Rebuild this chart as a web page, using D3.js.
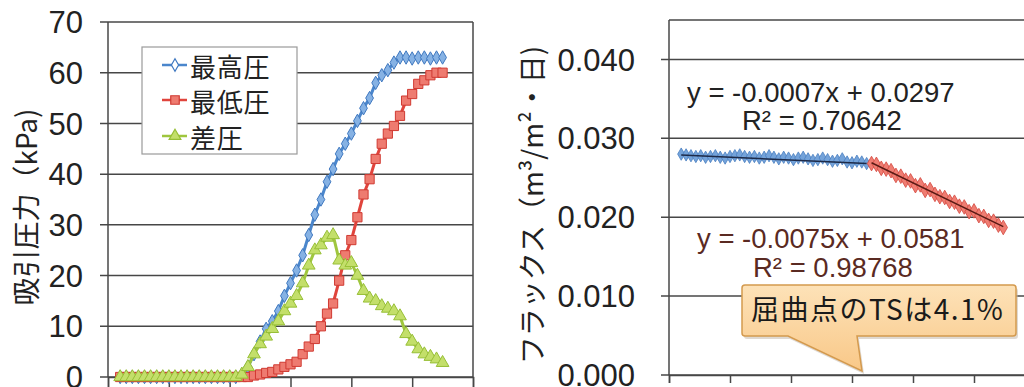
<!DOCTYPE html>
<html><head><meta charset="utf-8">
<script src="https://cdn.jsdelivr.net/npm/d3@7"></script>
<style>body{margin:0;background:#fff}svg{display:block}</style>
</head><body>
<svg id="c" width="1024" height="387"></svg>
<script>
// ---------- Left chart data ----------
const timeSteps = [0.2,0.3,0.4,0.5,0.6,0.7,0.8,0.9,1.0,1.1,1.2,1.3,1.4,1.5,1.6,1.7,1.8,1.9,2.0,2.1,
  2.2,2.3,2.4,2.5,2.6,2.7,2.8,2.9,3.0,3.1,3.2,3.3,3.4,3.5,3.6,3.7,3.8,3.9,4.0,4.1,4.2,4.3,4.4,4.5,4.6,4.7,4.8,4.9,5.0,5.1,5.2,5.3,5.4,5.5];
const highPressure = [0,0,0,0,0,0,0,0,0,0,0,0,0,0,0,0,0,0,0,0,
  0.5,2,4.5,7,9.5,11,13,16,18.5,21,24,28,32,35,38.5,41,44,46,48,50.5,53,55,58,59.5,60.5,62,63,63,62.8,63,63,62.8,63,63];
const lowPressure = [0,0,0,0,0,0,0,0,0,0,0,0,0,0,0,0,0,0,0,0,0,0,
  0.3,0.5,0.8,1,1.5,2,2.5,3,4.5,6,7.5,10,12.5,14.5,19,24,27,31.5,36,39,43,46,48,49.5,51.5,54.5,55.8,57.8,58.5,59.5,60,60];
const diffPressure = [0,0,0,0,0,0,0,0,0,0,0,0,0,0,0,0,0,0,0,0,
  0.5,2,4.5,6.5,8,9.5,11,13,14.5,16,18.5,22,25,26,27.5,28,23,22,22.5,20,17,15.5,15,14,13.5,13,12,8.5,7,5.5,4.5,4,3.5,2.8];
const seriesNames = ["最高圧","最低圧","差圧"];
const leftYTicks = [0,10,20,30,40,50,60,70];
const leftXTicks = [0,1,2,3,4,5,6];
const leftYTitle = "吸引圧力（kPa)";

// ---------- Right chart data ----------
const tsBefore = [2.60,2.64,2.68,2.72,2.76,2.80,2.84,2.88,2.92,2.96,3.00,3.04,3.08,3.12,3.16,3.20,3.24,3.28,3.32,3.36,
  3.40,3.44,3.48,3.52,3.56,3.60,3.64,3.68,3.72,3.76,3.80,3.84,3.88,3.92,3.96,4.00,4.04,4.08,4.12];
const fluxBefore = [0.0280,0.0279,0.0278,0.0277,0.0278,0.0276,0.0277,0.0278,0.0276,0.0275,
  0.0277,0.0278,0.0279,0.0277,0.0276,0.0277,0.0275,0.0276,0.0278,0.0276,
  0.0274,0.0276,0.0275,0.0273,0.0275,0.0276,0.0274,0.0272,0.0273,0.0275,
  0.0273,0.0271,0.0272,0.0274,0.0270,0.0269,0.0271,0.0270,0.0268];
const tsAfter = [4.16,4.20,4.24,4.28,4.32,4.36,4.40,4.44,4.48,4.52,4.56,4.60,4.64,4.68,4.72,4.76,4.80,4.84,4.88,4.92,
  4.96,5.00,5.04,5.08,5.12,5.16,5.20,5.24];
const fluxAfter = [0.0268,0.0267,0.0262,0.0261,0.0259,0.0253,0.0252,0.0247,0.0246,0.0240,0.0241,0.0234,0.0235,0.0229,
  0.0226,0.0225,0.0220,0.0219,0.0214,0.0213,0.0207,0.0208,0.0202,0.0201,0.0196,0.0195,0.0190,0.0187];
const trendSlopes = [-0.0007, -0.0075];
const trendIntercepts = [0.0297, 0.0581];
const trendLabels = ["y = -0.0007x + 0.0297", "y = -0.0075x + 0.0581"];
const r2Labels = ["R² = 0.70642", "R² = 0.98768"];
const rightYTicks = [0, 0.01, 0.02, 0.03, 0.04];
const rightXTicks = [2.5,3.0,3.5,4.0,4.5,5.0,5.5];
const rightYTitle = "フラックス（m³/m²・日)";
const calloutText = "屈曲点のTSは4.1%";

// ---------- Drawing ----------
const svg = d3.select("#c");
const NUM = "'Liberation Sans', Arial, sans-serif";
const JP = "'Noto Sans CJK JP', sans-serif";
const gridCol = "#474747";

const defs = svg.append("defs");
const grad = defs.append("linearGradient").attr("id","cg").attr("x1",0).attr("y1",0).attr("x2",0).attr("y2",1);
grad.append("stop").attr("offset","0%").attr("stop-color","#fde2b8");
grad.append("stop").attr("offset","100%").attr("stop-color","#f9c888");

// ===== Left chart =====
const xL = d3.scaleLinear().domain([0,6]).range([108,473]);
const yL = d3.scaleLinear().domain([0,70]).range([377,22]);
const gL = svg.append("g");

gL.selectAll("line.grid").data(leftYTicks).join("line")
  .attr("x1",100).attr("x2",473).attr("y1",d=>yL(d)).attr("y2",d=>yL(d))
  .attr("stroke",gridCol).attr("stroke-width",1.5);
gL.append("line").attr("x1",473).attr("x2",473).attr("y1",22).attr("y2",377).attr("stroke",gridCol).attr("stroke-width",1.5);
gL.append("line").attr("x1",108).attr("x2",108).attr("y1",22).attr("y2",377).attr("stroke",gridCol).attr("stroke-width",1.5);
gL.append("g").attr("transform","translate(0,377)")
  .call(d3.axisBottom(xL).tickValues(leftXTicks).tickSize(10).tickFormat(""))
  .call(g=>{g.select(".domain").attr("stroke",gridCol).attr("stroke-width",1.5);g.selectAll(".tick line").attr("stroke",gridCol).attr("stroke-width",1.5);});
gL.selectAll("text.yt").data(leftYTicks).join("text")
  .attr("x",83).attr("y",d=>yL(d)).attr("dy","0.36em").attr("text-anchor","end")
  .attr("font-family",NUM).attr("font-size",31).attr("fill","#222").text(d=>d);
gL.append("text").attr("transform","translate(25,207) rotate(-90)")
  .attr("text-anchor","middle").attr("dominant-baseline","central")
  .attr("font-family",JP).attr("font-size",28).attr("fill","#222").text(leftYTitle);

const seriesStyles = [
  {vals: highPressure, line:"#4a86cc", fill:"#86b2e4", stroke:"#3f78c0", sym:d3.symbolDiamond, size:52},
  {vals: lowPressure,  line:"#e0443c", fill:"#ee7b70", stroke:"#d03a32", sym:d3.symbolSquare, size:85},
  {vals: diffPressure, line:"#9fc63e", fill:"#c3df6a", stroke:"#97bf36", sym:d3.symbolTriangle, size:70}
];
seriesStyles.forEach(s=>{
  const pts = timeSteps.map((t,i)=>[t,s.vals[i]]);
  gL.append("path").datum(pts)
    .attr("d", d3.line().x(d=>xL(d[0])).y(d=>yL(d[1])))
    .attr("fill","none").attr("stroke",s.line).attr("stroke-width",3);
  gL.selectAll(null).data(pts).join("path")
    .attr("transform",d=>`translate(${xL(d[0])},${yL(d[1])})`)
    .attr("d", d3.symbol(s.sym, s.size)())
    .attr("fill",s.fill).attr("stroke",s.stroke).attr("stroke-width",1);
});

// legend
const lg = gL.append("g");
lg.append("rect").attr("x",142).attr("y",47).attr("width",155).attr("height",107)
  .attr("fill","#fff").attr("stroke","#9a9a9a").attr("stroke-width",1.2);
const legY = [65,100,136];
seriesStyles.forEach((s,i)=>{
  lg.append("line").attr("x1",162).attr("x2",187).attr("y1",legY[i]).attr("y2",legY[i])
    .attr("stroke",s.line).attr("stroke-width",2.5);
  lg.append("path").attr("transform",`translate(175,${legY[i]})`)
    .attr("d", d3.symbol(s.sym, s.size*0.85)())
    .attr("fill", i===0 ? "#ffffff" : s.fill).attr("stroke",s.stroke).attr("stroke-width",1.2);
  lg.append("text").attr("x",190).attr("y",legY[i]).attr("dominant-baseline","central")
    .attr("font-family",JP).attr("font-size",26).attr("letter-spacing",0.8).attr("fill","#222").text(seriesNames[i]);
});

// ===== Right chart =====
const xR = d3.scaleLinear().domain([2.5,5.5]).range([669,1035]);
const yR = d3.scaleLinear().domain([0,0.045]).range([375,20]);
const gR = svg.append("g");
gR.selectAll("line.grid").data(rightYTicks).join("line")
  .attr("x1",661).attr("x2",1035).attr("y1",d=>yR(d)).attr("y2",d=>yR(d))
  .attr("stroke",gridCol).attr("stroke-width",1.5);
gR.append("line").attr("x1",669).attr("x2",1035).attr("y1",20).attr("y2",20).attr("stroke",gridCol).attr("stroke-width",1.5);
gR.append("line").attr("x1",669).attr("x2",669).attr("y1",20).attr("y2",375).attr("stroke",gridCol).attr("stroke-width",1.5);
gR.append("g").attr("transform","translate(0,375)")
  .call(d3.axisBottom(xR).tickValues(rightXTicks).tickSize(8).tickFormat(""))
  .call(g=>{g.select(".domain").attr("stroke",gridCol).attr("stroke-width",1.5);g.selectAll(".tick line").attr("stroke",gridCol).attr("stroke-width",1.5);});
gR.selectAll("text.yt").data(rightYTicks).join("text")
  .attr("x",635).attr("y",d=>yR(d)).attr("dy","0.36em").attr("text-anchor","end")
  .attr("font-family",NUM).attr("font-size",31).attr("fill","#222").text(d=>d3.format(".3f")(d));
gR.append("text").attr("transform","translate(531,205) rotate(-90)")
  .attr("text-anchor","middle").attr("dominant-baseline","central")
  .attr("font-family",JP).attr("font-size",28).attr("fill","#222").text(rightYTitle);

const rSeries = [
  {xs: tsBefore, ys: fluxBefore, fill:"#74a3da", stroke:"#4a7fc0", sym:d3.symbolDiamond, size:44, trend:"#1d2a48"},
  {xs: tsAfter,  ys: fluxAfter,  fill:"#ef7d72", stroke:"#d4483f", sym:d3.symbolDiamond, size:62, trend:"#5a1a14"}
];
rSeries.forEach((s,k)=>{
  const pts = s.xs.map((x,i)=>[x,s.ys[i]]);
  gR.append("path").datum(pts)
    .attr("d", d3.line().x(d=>xR(d[0])).y(d=>yR(d[1])))
    .attr("fill","none").attr("stroke",s.stroke).attr("stroke-width",3);
  gR.selectAll(null).data(pts).join("path")
    .attr("transform",d=>`translate(${xR(d[0])},${yR(d[1])})`)
    .attr("d", d3.symbol(s.sym, s.size)())
    .attr("fill",s.fill).attr("stroke",s.stroke).attr("stroke-width",0.8);
  const x0 = s.xs[0], x1 = s.xs[s.xs.length-1];
  gR.append("line")
    .attr("x1",xR(x0)).attr("x2",xR(x1))
    .attr("y1",yR(trendSlopes[k]*x0+trendIntercepts[k]))
    .attr("y2",yR(trendSlopes[k]*x1+trendIntercepts[k]))
    .attr("stroke",s.trend).attr("stroke-width",1.5);
});

const eqPos = [{x:687,y:102,rx:742,ry:130,col:"#222"},{x:697,y:248,rx:753,ry:277,col:"#5a2a22"}];
eqPos.forEach((p,k)=>{
  gR.append("text").attr("x",p.x).attr("y",p.y).attr("font-family",NUM).attr("font-size",27.5)
    .attr("fill",p.col).text(trendLabels[k]);
  gR.append("text").attr("x",p.rx).attr("y",p.ry).attr("font-family",NUM).attr("font-size",27.5)
    .attr("fill",p.col).text(r2Labels[k]);
});

// callout
const co = gR.append("g");
const calloutPath = "M745,285 H1013 Q1016,285 1016,288 V333 Q1016,336 1013,336 H857 L862,371 L788,336 H745 Q742,336 742,333 V288 Q742,285 745,285 Z";
co.append("path").attr("d",calloutPath).attr("transform","translate(2,3)").attr("fill","#bfb3a6").attr("opacity",0.5);
co.append("path").attr("d",calloutPath).attr("fill","url(#cg)").attr("stroke","#d49a4e").attr("stroke-width",1.5);
co.append("text").attr("x",751).attr("y",308).attr("dominant-baseline","central")
  .attr("font-family",JP).attr("font-size",28).attr("letter-spacing",1.5).attr("fill","#1a1a1a").text(calloutText);
</script>
</body></html>
